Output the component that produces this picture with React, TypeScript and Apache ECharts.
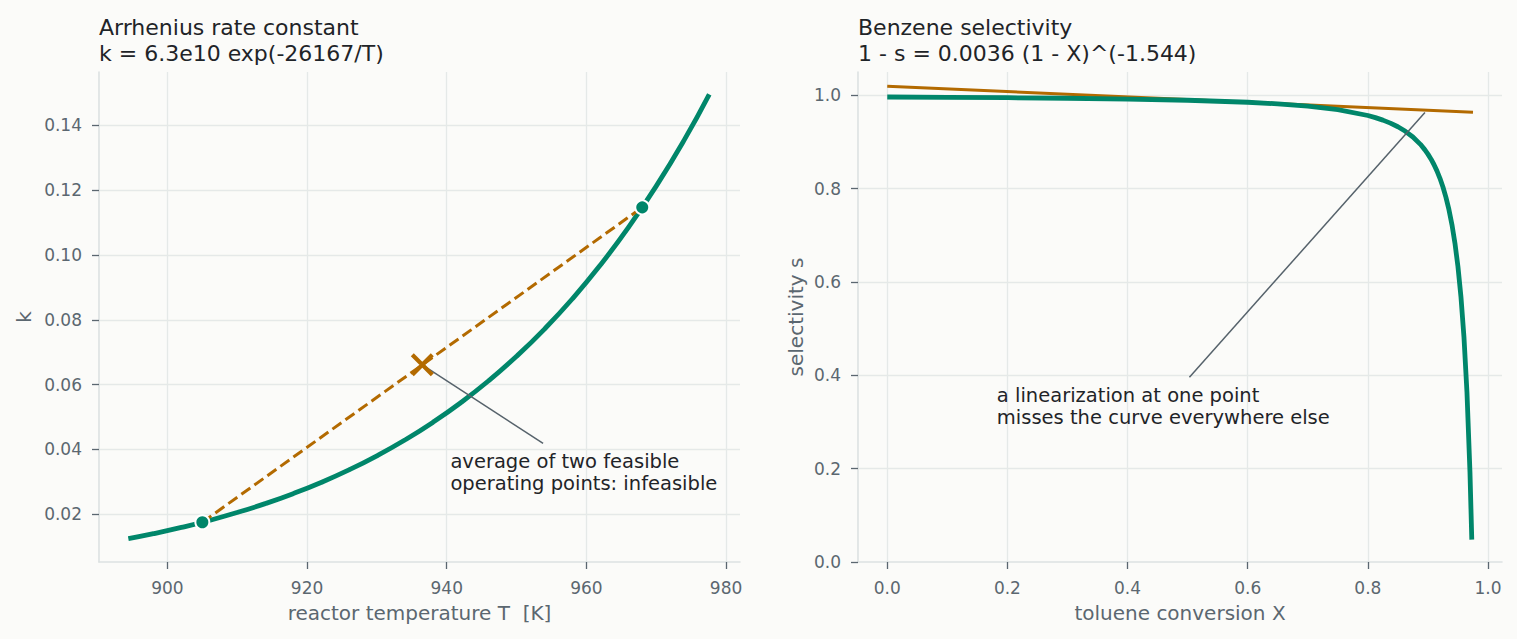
import { useEffect, useRef } from 'react'
import * as echarts from 'echarts'

const FONT = 'DejaVu Sans'
const GREEN = '#00866a'
const ORANGE = '#b36a00'
const ANNOT = '#56626b'
const TICK_TEXT = '#5b6770'
const TITLE_TEXT = '#1f2428'
const GRID_LINE = '#e5e9e8'
const SPINE = '#dde2e2'
const BG = '#fbfbf9'

// left panel: Arrhenius curve k(T)
const tempK = [894.4, 898, 902, 906, 910, 914, 918, 922, 926, 930, 934, 938, 942, 946, 950, 954, 958, 962, 966, 970, 974, 977.6]
const rateK = [0.0124, 0.01394, 0.01587, 0.01803, 0.02048, 0.02322, 0.02631, 0.02977, 0.03365, 0.038, 0.04287, 0.04831, 0.05438, 0.06116, 0.06872, 0.07713, 0.08648, 0.09689, 0.10844, 0.12125, 0.13546, 0.1496]
const feasibleT = [905, 968]
const feasibleK = [0.01747, 0.1147]
const averageT = [936.5]
const averageK = [0.0661]
const leftNoteLineT = [953.8, 936.5]
const leftNoteLineK = [0.0418, 0.0661]
const leftNoteAt = [940.6, 0.0394]
const leftNote = 'average of two feasible\noperating points: infeasible'

// right panel: benzene selectivity s(X)
const conversionX = [0, 0.1, 0.2, 0.3, 0.4, 0.5, 0.6, 0.65, 0.7, 0.75, 0.8, 0.8125, 0.825, 0.8375, 0.85, 0.8625, 0.875, 0.8875, 0.895, 0.9, 0.905, 0.91, 0.915, 0.92, 0.925, 0.93, 0.935, 0.94, 0.945, 0.95, 0.955, 0.96, 0.965, 0.97, 0.973]
const selectivityS = [0.9964, 0.99576, 0.99492, 0.99376, 0.99208, 0.9895, 0.98518, 0.98179, 0.9769, 0.96939, 0.9568, 0.95227, 0.9469, 0.94047, 0.93263, 0.92295, 0.91074, 0.89497, 0.88316, 0.87402, 0.86362, 0.85175, 0.83811, 0.8222, 0.80358, 0.78148, 0.75495, 0.72276, 0.68291, 0.63262, 0.56775, 0.48153, 0.36284, 0.19162, 0.048]
const tangentX = [0, 0.975]
const tangentS = [1.0195, 0.9637]
const rightNoteLineX = [0.503, 0.895]
const rightNoteLineS = [0.396, 0.963]
const rightNoteAt = [0.1833, 0.3787]
const rightNote = 'a linearization at one point\nmisses the curve everywhere else'

const zip = (xs: number[], ys: number[]) => xs.map((x, i) => [x, ys[i]])

const tickLabel = (digits: number) => ({
  color: TICK_TEXT,
  fontFamily: FONT,
  fontSize: 17,
  formatter: (v: number) => v.toFixed(digits),
})

const axisCommon = {
  type: 'value' as const,
  nameLocation: 'middle' as const,
  nameTextStyle: { color: TICK_TEXT, fontFamily: FONT, fontSize: 20 },
  axisLine: { show: true, onZero: false, lineStyle: { color: SPINE, width: 1.6 } },
  axisTick: { show: true, inside: false, length: 7, lineStyle: { color: TICK_TEXT, width: 1.3 } },
  splitLine: { show: true, showMinLine: false, showMaxLine: false, lineStyle: { color: GRID_LINE, width: 1.3 } },
}

const noteLabel = (text: string) => ({
  show: true,
  position: [0, 0],
  align: 'left',
  verticalAlign: 'top',
  formatter: text,
  color: TITLE_TEXT,
  fontFamily: FONT,
  fontSize: 19.5,
  lineHeight: 22,
  opacity: 1,
})

export default function App() {
  const chartRef = useRef<HTMLDivElement>(null)

  useEffect(() => {
    if (!chartRef.current) return
    const chart = echarts.init(chartRef.current, undefined, { renderer: 'svg' })

    const option: echarts.EChartsOption = {
      animation: false,
      backgroundColor: BG,
      textStyle: { fontFamily: FONT },
      title: [
        {
          text: 'Arrhenius rate constant\nk = 6.3e10 exp(-26167/T)',
          left: 99,
          top: 14,
          padding: 0,
          textStyle: { color: TITLE_TEXT, fontFamily: FONT, fontSize: 22, fontWeight: 'normal', lineHeight: 26 },
        },
        {
          text: 'Benzene selectivity\n1 - s = 0.0036 (1 - X)^(-1.544)',
          left: 858,
          top: 14,
          padding: 0,
          textStyle: { color: TITLE_TEXT, fontFamily: FONT, fontSize: 22, fontWeight: 'normal', lineHeight: 26 },
        },
      ],
      grid: [
        { left: 99, top: 72, width: 641, height: 490 },
        { left: 858, top: 72, width: 644, height: 490 },
      ],
      xAxis: [
        {
          ...axisCommon,
          gridIndex: 0,
          min: 890.2,
          max: 982.0,
          splitNumber: 5,
          name: 'reactor temperature T  [K]',
          nameGap: 41,
          axisLabel: { ...tickLabel(0), margin: 17, showMinLabel: false, showMaxLabel: false },
        },
        {
          ...axisCommon,
          gridIndex: 1,
          min: -0.0487,
          max: 1.0233,
          splitNumber: 5,
          name: 'toluene conversion X',
          nameGap: 41,
          axisLabel: { ...tickLabel(1), margin: 17, showMinLabel: false, showMaxLabel: false },
        },
      ],
      yAxis: [
        {
          ...axisCommon,
          gridIndex: 0,
          min: 0.0052,
          max: 0.1565,
          splitNumber: 7,
          name: 'k',
          nameGap: 65,
          axisLabel: { ...tickLabel(2), margin: 17, showMinLabel: false, showMaxLabel: false },
        },
        {
          ...axisCommon,
          gridIndex: 1,
          min: 0,
          max: 1.05,
          splitNumber: 5,
          name: 'selectivity s',
          nameGap: 52,
          axisLabel: { ...tickLabel(1), margin: 17, showMaxLabel: false },
        },
      ],
      series: [
        {
          type: 'line',
          xAxisIndex: 0,
          yAxisIndex: 0,
          data: zip(tempK, rateK),
          smooth: true,
          symbol: 'none',
          lineStyle: { color: GREEN, width: 4.8 },
          z: 3,
        },
        {
          type: 'line',
          xAxisIndex: 0,
          yAxisIndex: 0,
          data: zip(feasibleT, feasibleK),
          symbol: 'none',
          lineStyle: { color: ORANGE, width: 3, type: [11, 5] },
          z: 3,
        },
        {
          type: 'line',
          xAxisIndex: 0,
          yAxisIndex: 0,
          data: zip(leftNoteLineT, leftNoteLineK),
          symbol: 'none',
          lineStyle: { color: ANNOT, width: 1.5 },
          z: 4,
        },
        {
          type: 'scatter',
          xAxisIndex: 0,
          yAxisIndex: 0,
          data: zip(feasibleT, feasibleK),
          symbol: 'circle',
          symbolSize: 14,
          itemStyle: { color: GREEN, borderColor: '#ffffff', borderWidth: 2, opacity: 1 },
          z: 5,
        },
        {
          type: 'scatter',
          xAxisIndex: 0,
          yAxisIndex: 0,
          data: zip(averageT, averageK),
          symbol: 'path://M0,0L10,10M10,0L0,10',
          symbolSize: 20,
          itemStyle: { color: 'transparent', borderColor: ORANGE, borderWidth: 4.2, opacity: 1 },
          z: 5,
        },
        {
          type: 'scatter',
          xAxisIndex: 0,
          yAxisIndex: 0,
          data: [leftNoteAt],
          symbolSize: 1,
          silent: true,
          itemStyle: { color: 'transparent', opacity: 1 },
          label: noteLabel(leftNote),
          z: 6,
        },
        {
          type: 'line',
          xAxisIndex: 1,
          yAxisIndex: 1,
          data: zip(tangentX, tangentS),
          symbol: 'none',
          lineStyle: { color: ORANGE, width: 3 },
          z: 3,
        },
        {
          type: 'line',
          xAxisIndex: 1,
          yAxisIndex: 1,
          data: zip(conversionX, selectivityS),
          smooth: false,
          symbol: 'none',
          lineStyle: { color: GREEN, width: 4.8, join: 'round' },
          z: 4,
        },
        {
          type: 'line',
          xAxisIndex: 1,
          yAxisIndex: 1,
          data: zip(rightNoteLineX, rightNoteLineS),
          symbol: 'none',
          lineStyle: { color: ANNOT, width: 1.5 },
          z: 5,
        },
        {
          type: 'scatter',
          xAxisIndex: 1,
          yAxisIndex: 1,
          data: [rightNoteAt],
          symbolSize: 1,
          silent: true,
          itemStyle: { color: 'transparent', opacity: 1 },
          label: noteLabel(rightNote),
          z: 6,
        },
      ],
    }

    chart.setOption(option)
    return () => {
      chart.dispose()
    }
  }, [])

  return (
    <div
      ref={chartRef}
      style={{ position: 'fixed', left: 0, top: 0, width: 1517, height: 639, background: BG }}
    />
  )
}
